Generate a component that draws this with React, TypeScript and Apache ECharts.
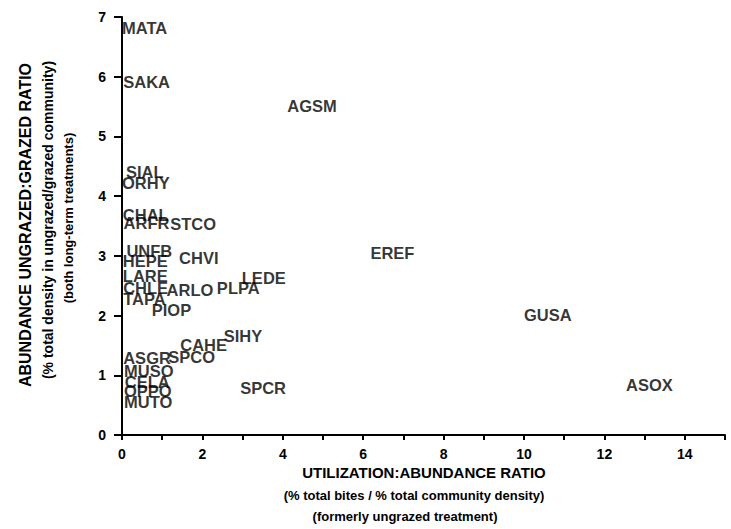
import React, { useEffect, useRef } from "react";
import * as echarts from "echarts";

const speciesNames = [
  "MATA", "SAKA", "AGSM", "SIAL", "ORHY", "CHAL", "ARFR", "STCO", "UNFB", "HEPE",
  "CHVI", "LARE", "LEDE", "CHLE", "ARLO", "PLPA", "TAPA", "PIOP", "SIHY", "CAHE",
  "ASGR", "SPCO", "MUSO", "CELA", "OPPO", "MUTO", "SPCR", "EREF", "GUSA", "ASOX",
];
const utilizationRatio = [
  0.0, 0.03, 4.11, 0.1, 0.0, 0.02, 0.04, 1.2, 0.11, 0.02,
  1.42, 0.02, 2.98, 0.03, 1.11, 2.36, 0.03, 0.74, 2.53, 1.45,
  0.03, 1.15, 0.05, 0.07, 0.05, 0.05, 2.94, 6.18, 10.0, 12.54,
];
const abundanceRatio = [
  6.82, 5.91, 5.51, 4.4, 4.22, 3.69, 3.55, 3.54, 3.08, 2.91,
  2.96, 2.67, 2.63, 2.46, 2.43, 2.46, 2.28, 2.1, 1.66, 1.51,
  1.29, 1.31, 1.08, 0.88, 0.73, 0.56, 0.78, 3.05, 2.01, 0.84,
];
const xTitleLines = [
  "UTILIZATION:ABUNDANCE RATIO",
  "(% total bites / % total community density)",
  "(formerly ungrazed treatment)",
];
const yTitleLines = [
  "ABUNDANCE UNGRAZED:GRAZED RATIO",
  "(% total density in ungrazed/grazed community)",
  "(both long-term treatments)",
];

const FONT = "'Liberation Sans', Arial, Helvetica, sans-serif";
const INK = "#000";

export default function App() {
  const ref = useRef<HTMLDivElement>(null);
  useEffect(() => {
    document.body.style.margin = "0";
    const chart = echarts.init(ref.current!, null, { renderer: "svg" });
    const data = speciesNames.map((n, i) => ({
      name: n,
      value: [utilizationRatio[i], abundanceRatio[i]],
    }));
    const title = (text: string, x: number, y: number, size: number, rot: boolean) => ({
      type: "text",
      x,
      y,
      rotation: rot ? Math.PI / 2 : 0,
      style: {
        text,
        fill: INK,
        font: `bold ${size}px ${FONT}`,
        textAlign: "center",
        textVerticalAlign: "middle",
      },
    });
    chart.setOption({
      animation: false,
      backgroundColor: "#fff",
      grid: { left: 122, right: 6, top: 17, bottom: 94, containLabel: false },
      xAxis: {
        type: "value",
        min: 0,
        max: 15,
        interval: 1,
        splitLine: { show: false },
        axisLine: { show: true, onZero: false, lineStyle: { color: INK, width: 2 } },
        axisTick: { show: true, length: 5, inside: false, lineStyle: { color: INK, width: 2 } },
        axisLabel: {
          margin: 12,
          color: INK,
          fontFamily: FONT,
          fontWeight: "bold",
          fontSize: 14,
          formatter: (v: number) => (v % 2 === 0 && v < 15 ? String(v) : ""),
        },
      },
      yAxis: {
        type: "value",
        min: 0,
        max: 7,
        interval: 1,
        splitLine: { show: false },
        axisLine: { show: true, onZero: false, lineStyle: { color: INK, width: 2 } },
        axisTick: { show: true, length: 8, inside: false, lineStyle: { color: INK, width: 2 } },
        axisLabel: {
          margin: 16,
          color: INK,
          fontFamily: FONT,
          fontWeight: "bold",
          fontSize: 14,
        },
      },
      series: [
        {
          type: "scatter",
          data,
          symbolSize: 1,
          itemStyle: { color: "rgba(0,0,0,0)" },
          clip: false,
          label: {
            show: true,
            position: "inside",
            align: "left",
            verticalAlign: "middle",
            formatter: (p: any) => p.name,
            color: INK,
            fontFamily: FONT,
            fontWeight: "bold",
            fontSize: 16.5,
          },
          labelLayout: { hideOverlap: false },
        },
      ],
      graphic: [
        title(xTitleLines[0], 424, 472, 15, false),
        title(xTitleLines[1], 414, 495, 13, false),
        title(xTitleLines[2], 405, 516, 13, false),
        title(yTitleLines[0], 25, 225, 16, true),
        title(yTitleLines[1], 48, 220, 14, true),
        title(yTitleLines[2], 68, 218, 13, true),
      ],
    });
    return () => chart.dispose();
  }, []);
  return <div ref={ref} style={{ width: 731, height: 529 }} />;
}
